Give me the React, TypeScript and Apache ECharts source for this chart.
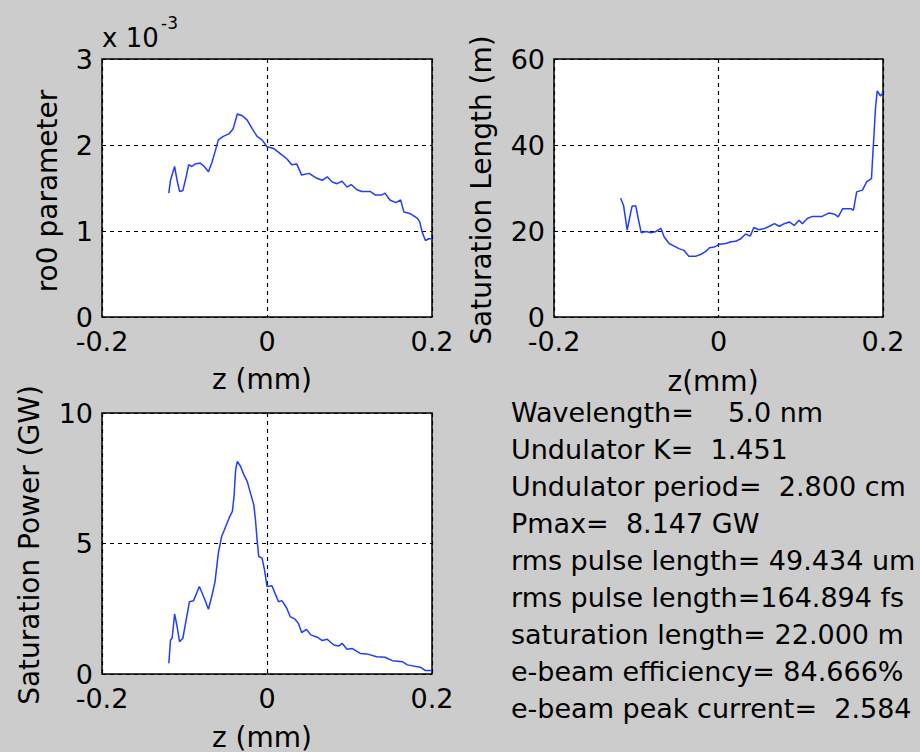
import React, { useEffect, useRef } from "react";
import * as echarts from "echarts";

// ---- data ----
const xTicks = [-0.2, 0, 0.2];

// ro0 parameter (units of 1e-3)
const ro0Z = [-0.119, -0.117, -0.112, -0.109, -0.106, -0.102, -0.098, -0.095, -0.091, -0.087, -0.081, -0.076, -0.071, -0.067, -0.063, -0.059, -0.053, -0.046, -0.041, -0.036, -0.030, -0.024, -0.018, -0.012, -0.006, 0, 0.008, 0.016, 0.024, 0.030, 0.036, 0.042, 0.051, 0.059, 0.067, 0.073, 0.079, 0.085, 0.091, 0.097, 0.102, 0.109, 0.115, 0.125, 0.131, 0.139, 0.143, 0.149, 0.156, 0.162, 0.166, 0.174, 0.182, 0.185, 0.188, 0.192, 0.196, 0.200];
const ro0Val = [1.44, 1.59, 1.75, 1.59, 1.46, 1.47, 1.63, 1.77, 1.75, 1.78, 1.79, 1.75, 1.69, 1.79, 1.92, 2.06, 2.10, 2.13, 2.19, 2.36, 2.34, 2.29, 2.19, 2.10, 2.06, 1.98, 1.96, 1.90, 1.84, 1.77, 1.78, 1.65, 1.67, 1.62, 1.59, 1.63, 1.57, 1.55, 1.58, 1.51, 1.54, 1.48, 1.46, 1.46, 1.42, 1.42, 1.44, 1.36, 1.33, 1.36, 1.22, 1.20, 1.15, 1.11, 0.99, 0.89, 0.91, 0.91];

// Saturation length (m)
const satLenZ = [-0.119, -0.1155, -0.111, -0.107, -0.105, -0.1005, -0.098, -0.094, -0.088, -0.082, -0.076, -0.070, -0.066, -0.060, -0.054, -0.048, -0.042, -0.036, -0.028, -0.021, -0.015, -0.011, -0.005, 0.001, 0.009, 0.015, 0.021, 0.027, 0.033, 0.0385, 0.043, 0.049, 0.056, 0.062, 0.068, 0.074, 0.080, 0.086, 0.092, 0.098, 0.102, 0.108, 0.114, 0.126, 0.1345, 0.141, 0.1455, 0.151, 0.161, 0.164, 0.168, 0.175, 0.180, 0.186, 0.187, 0.189, 0.191, 0.193, 0.197, 0.200];
const satLenVal = [27.6, 26.0, 20.2, 24.1, 25.8, 25.8, 23.3, 19.6, 19.9, 19.6, 19.9, 20.6, 18.6, 17.1, 16.5, 15.9, 15.5, 14.1, 14.1, 14.6, 15.3, 16.1, 16.3, 16.9, 17.1, 17.5, 17.6, 18.2, 19.3, 18.8, 20.8, 20.3, 20.6, 21.1, 21.7, 21.1, 21.7, 22.1, 21.3, 22.5, 21.7, 22.9, 23.4, 23.4, 24.2, 23.9, 23.3, 25.2, 25.2, 24.8, 29.1, 29.5, 31.4, 32.2, 35.7, 42.3, 48.9, 52.6, 51.4, 52.2];

// Saturation power (GW)
const powerZ = [-0.119, -0.117, -0.115, -0.112, -0.109, -0.106, -0.102, -0.098, -0.094, -0.089, -0.082, -0.076, -0.071, -0.067, -0.063, -0.059, -0.055, -0.050, -0.046, -0.042, -0.040, -0.038, -0.036, -0.032, -0.028, -0.024, -0.020, -0.016, -0.014, -0.012, -0.010, -0.006, -0.003, 0, 0.006, 0.010, 0.014, 0.018, 0.024, 0.028, 0.034, 0.038, 0.042, 0.048, 0.053, 0.061, 0.067, 0.073, 0.081, 0.087, 0.091, 0.097, 0.103, 0.113, 0.121, 0.133, 0.143, 0.152, 0.164, 0.170, 0.186, 0.192, 0.200];
const powerVal = [0.41, 1.30, 1.37, 2.30, 1.82, 1.24, 1.37, 2.07, 2.77, 2.81, 3.35, 2.90, 2.48, 2.97, 3.54, 4.63, 5.27, 5.65, 5.97, 6.23, 6.80, 7.83, 8.15, 7.95, 7.63, 7.38, 6.93, 6.48, 5.91, 5.14, 4.50, 4.44, 3.99, 3.35, 3.38, 3.07, 2.77, 2.81, 2.52, 2.20, 2.10, 1.94, 1.59, 1.71, 1.50, 1.41, 1.28, 1.33, 1.11, 1.07, 1.18, 0.95, 0.98, 0.79, 0.77, 0.66, 0.64, 0.51, 0.47, 0.35, 0.26, 0.13, 0.13];

const infoLines = [
  "Wavelength=    5.0 nm",
  "Undulator K=  1.451",
  "Undulator period=  2.800 cm",
  "Pmax=  8.147 GW",
  "rms pulse length= 49.434 um",
  "rms pulse length=164.894 fs",
  "saturation length= 22.000 m",
  "e-beam efficiency= 84.666%",
  "e-beam peak current=  2.584",
];

const FONT = "DejaVu Sans";
const BLUE = "#1f3cff";

function zip(a: number[], b: number[]) {
  return a.map((v, i) => [v, b[i]]);
}

export default function App() {
  const ref = useRef<HTMLDivElement>(null);
  useEffect(() => {
    if (!ref.current) return;
    const chart = echarts.init(ref.current, null, { renderer: "svg" });

    const grids = [
      { left: 102, top: 59, width: 330, height: 258 },
      { left: 554, top: 59, width: 329, height: 258 },
      { left: 102, top: 413, width: 330, height: 261 },
    ].map((g) => ({
      ...g,
      show: true,
      backgroundColor: "#ffffff",
      borderColor: "#000000",
      borderWidth: 1.5,
      containLabel: false,
    }));

    const dashed = { show: true, lineStyle: { color: "#000", type: [4, 4], width: 1.2 } };
    const labelStyle = { fontFamily: FONT, fontSize: 27, color: "#000", lineHeight: 20 };

    const xAxes = [0, 1, 2].map((i) => ({
      type: "value",
      gridIndex: i,
      min: xTicks[0],
      max: xTicks[xTicks.length - 1],
      interval: 0.2,
      axisLine: { show: false },
      axisTick: { show: false },
      splitLine: dashed,
      axisLabel: { ...labelStyle, margin: 14, formatter: (v: number) => String(Math.round(v * 10) / 10) },
    }));

    const yDefs = [
      { max: 3, interval: 1 },
      { max: 60, interval: 20 },
      { max: 10, interval: 5 },
    ];
    const yAxes = yDefs.map((d, i) => ({
      type: "value",
      gridIndex: i,
      min: 0,
      max: d.max,
      interval: d.interval,
      axisLine: { show: false },
      axisTick: { show: false },
      splitLine: dashed,
      axisLabel: { ...labelStyle, margin: 9 },
    }));

    const mkSeries = (i: number, z: number[], v: number[]) => ({
      type: "line",
      xAxisIndex: i,
      yAxisIndex: i,
      data: zip(z, v),
      showSymbol: false,
      symbol: "none",
      lineStyle: { color: BLUE, width: 1.5 },
      z: 3,
    });

    const titleText = (text: string, x: number, y: number, rot = 0, size = 28) => ({
      type: "text",
      x,
      y,
      rotation: rot,
      style: {
        text,
        fontFamily: FONT,
        fontSize: size,
        fill: "#000",
        textAlign: "center",
        textVerticalAlign: "middle",
      },
    });

    const graphic: any[] = [
      titleText("z (mm)", 262, 379),
      titleText("z(mm)", 713, 381),
      titleText("z (mm)", 262, 737),
      titleText("ro0 parameter", 47, 191, Math.PI / 2),
      titleText("Saturation Length (m)", 481, 190, Math.PI / 2),
      titleText("Saturation Power (GW)", 29, 545, Math.PI / 2),
      {
        type: "text",
        x: 102,
        y: 38,
        style: { text: "x 10", fontFamily: FONT, fontSize: 26, fill: "#000", textAlign: "left", textVerticalAlign: "middle" },
      },
      {
        type: "text",
        x: 161,
        y: 23,
        style: { text: "-3", fontFamily: FONT, fontSize: 17, fill: "#000", textAlign: "left", textVerticalAlign: "middle" },
      },
      ...infoLines.map((t, i) => ({
        type: "text",
        x: 511,
        y: 412 + i * 37,
        style: { text: t, fontFamily: FONT, fontSize: 27, fill: "#000", textAlign: "left", textVerticalAlign: "middle" },
      })),
    ];

    chart.setOption({
      animation: false,
      backgroundColor: "#cccccc",
      grid: grids,
      xAxis: xAxes,
      yAxis: yAxes,
      series: [mkSeries(0, ro0Z, ro0Val), mkSeries(1, satLenZ, satLenVal), mkSeries(2, powerZ, powerVal)],
      graphic,
    } as any);

    return () => chart.dispose();
  }, []);

  return (
    <div
      ref={ref}
      style={{ position: "fixed", left: 0, top: 0, width: 920, height: 752 }}
    />
  );
}
